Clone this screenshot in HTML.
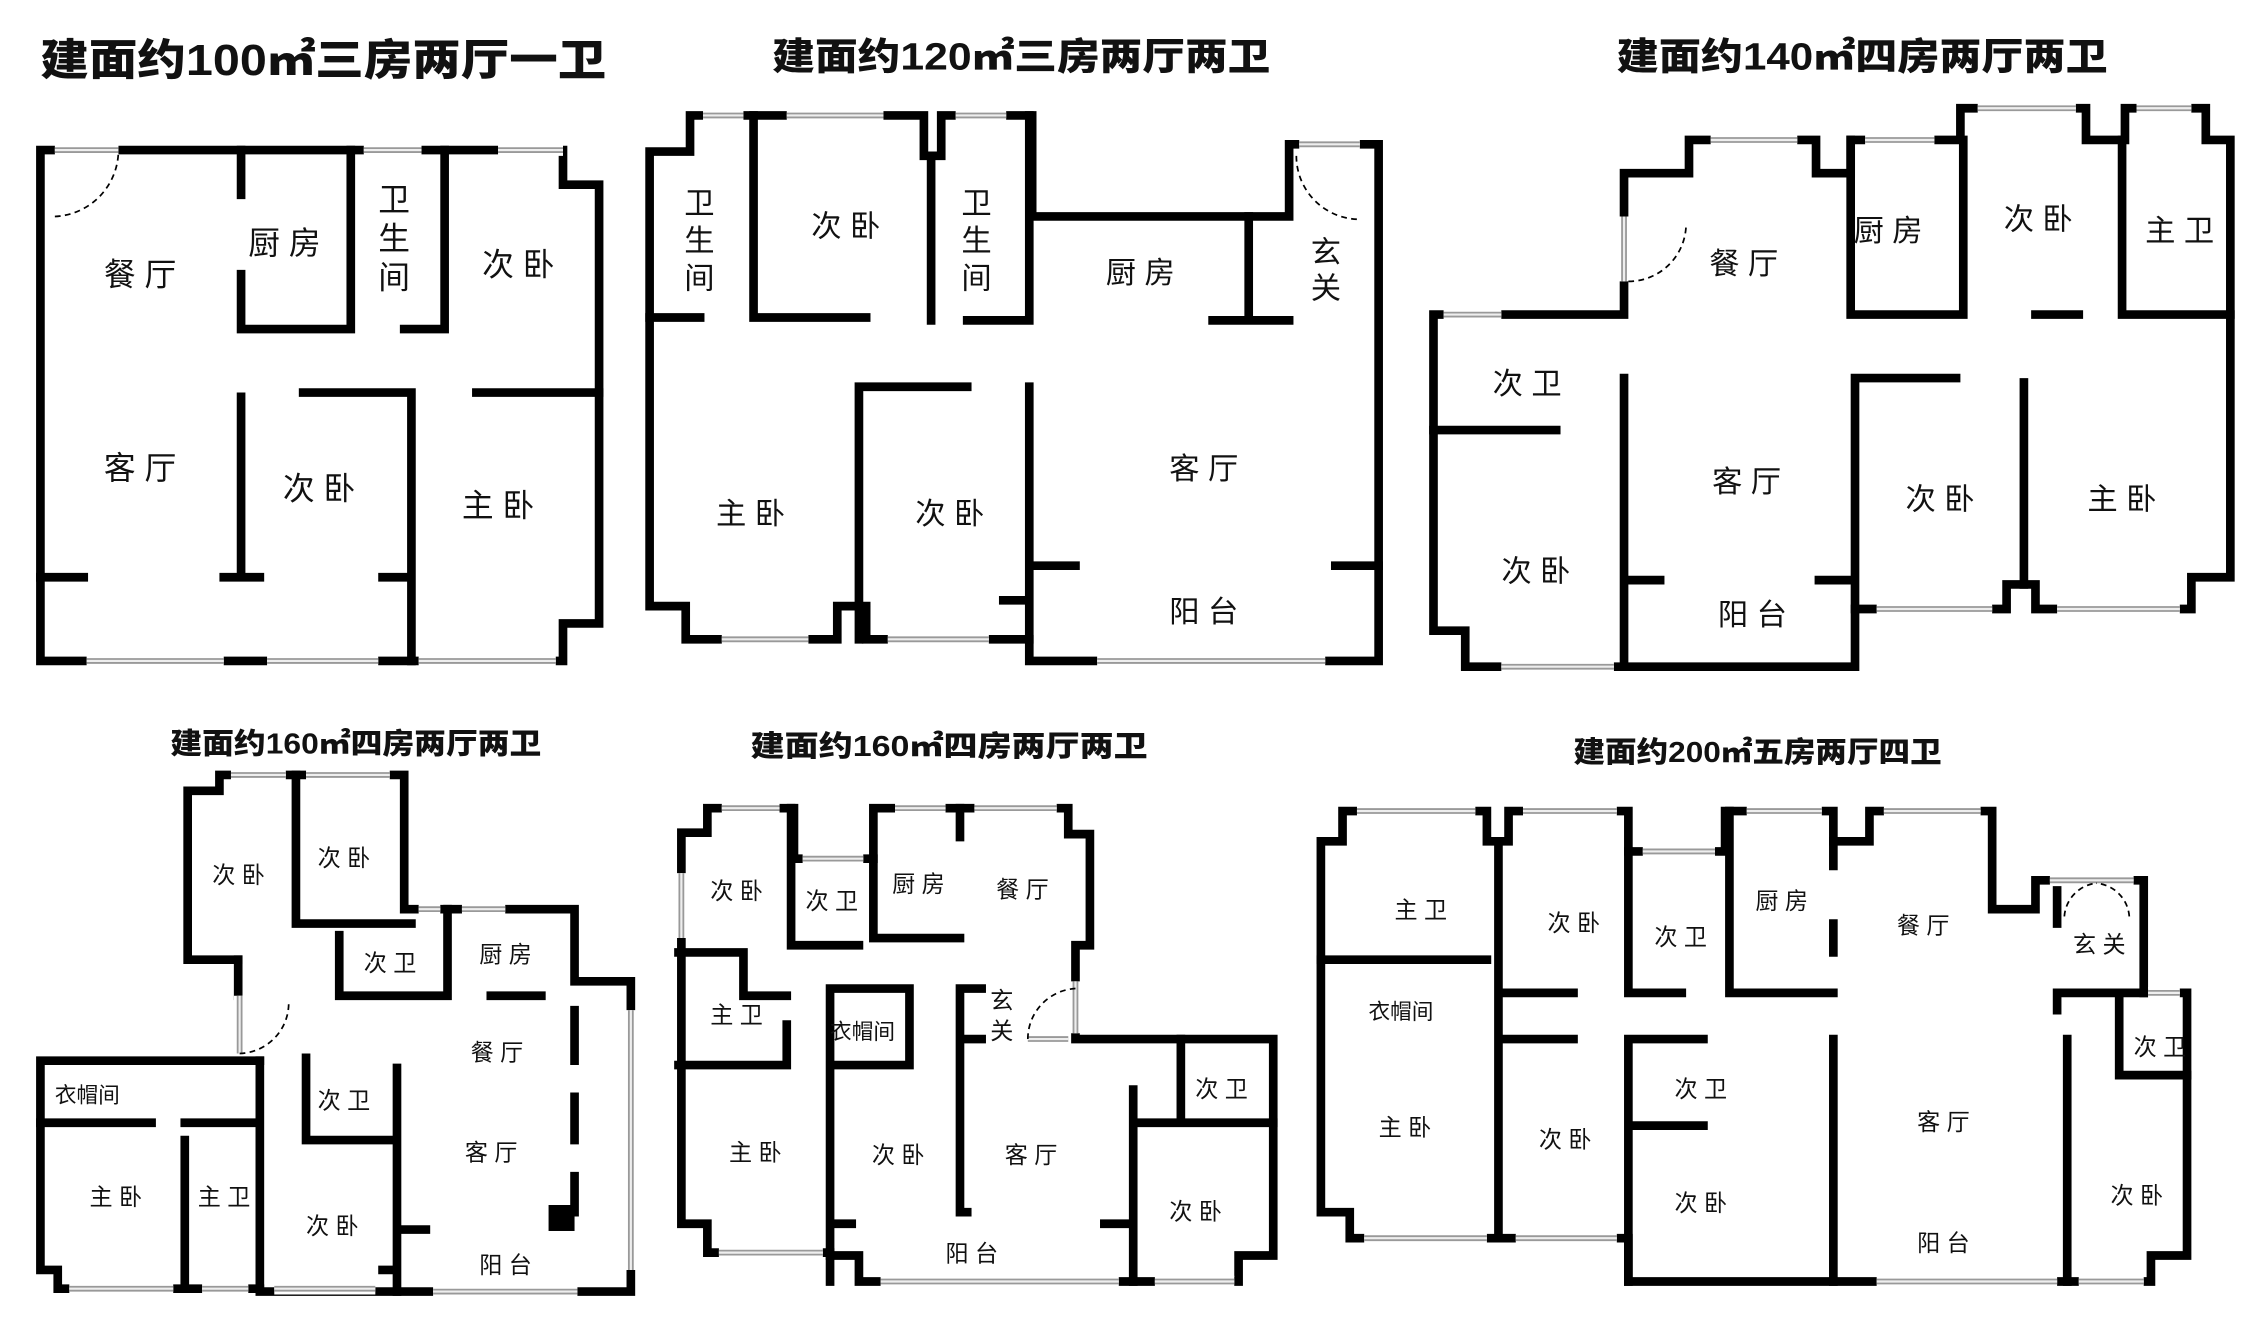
<!DOCTYPE html>
<html><head><meta charset="utf-8"><style>
html,body{margin:0;padding:0;background:#fff;}
svg{display:block}
text{font-family:"Liberation Sans","Noto Sans CJK SC",sans-serif;fill:#111;}
.t{font-weight:900}
.w{fill:none;stroke:#000;stroke-width:6;stroke-linecap:square;stroke-linejoin:miter}
.wa{fill:none;stroke:#fff;stroke-width:8;stroke-linecap:butt}
.wb{fill:none;stroke:#999;stroke-width:4;stroke-linecap:butt}
.wc{fill:none;stroke:#eee;stroke-width:1.5;stroke-linecap:butt}
.d{stroke:#000;stroke-width:1.2;fill:none;stroke-dasharray:4 3}
</style></head><body>
<svg width="2252" height="1332" viewBox="0 0 1560 923" preserveAspectRatio="none" xmlns="http://www.w3.org/2000/svg">
<!-- titles -->
<text class="t" x="28" y="52" font-size="30" textLength="392" lengthAdjust="spacingAndGlyphs">建面约100㎡三房两厅一卫</text>
<text class="t" x="535" y="48" font-size="26" textLength="345" lengthAdjust="spacingAndGlyphs">建面约120㎡三房两厅两卫</text>
<text class="t" x="1120" y="48" font-size="26" textLength="340" lengthAdjust="spacingAndGlyphs">建面约140㎡四房两厅两卫</text>
<text class="t" x="118" y="522" font-size="20" textLength="257" lengthAdjust="spacingAndGlyphs">建面约160㎡四房两厅两卫</text>
<text class="t" x="520" y="524" font-size="20" textLength="275" lengthAdjust="spacingAndGlyphs">建面约160㎡四房两厅两卫</text>
<text class="t" x="1090" y="528" font-size="20" textLength="255" lengthAdjust="spacingAndGlyphs">建面约200㎡五房两厅四卫</text>

<!-- Plan 1 -->
<g>
<path class="w" d="M85,104H390V128H415V432H390V458H28V104H38"/>
<path class="w" d="M167,104V135 M167,190V228H243V104 M280,228H308V104 M167,275V400 M210,272H285V458 M330,272H415 M28,400H58 M155,400H180 M265,400H285"/>
<g id="p1w"><path d="M38,104H82 M252,104H292 M345,104H390 M60,458H155 M185,458H262 M290,458H385"/></g>
<path class="wa" d="M38,104H82 M252,104H292 M345,104H390 M60,458H155 M185,458H262 M290,458H385"/>
<path class="wb" d="M38,104H82 M252,104H292 M345,104H390 M60,458H155 M185,458H262 M290,458H385"/>
<path class="wc" d="M38,104H82 M252,104H292 M345,104H390 M60,458H155 M185,458H262 M290,458H385"/>
<path class="d" d="M38,150A46,46 0 0 0 82,106"/>
<text x="72" y="198" font-size="22">餐 厅</text>
<text x="172" y="176" font-size="22">厨 房</text>
<text x="262" y="146" font-size="22">卫</text><text x="262" y="173" font-size="22">生</text><text x="262" y="200" font-size="22">间</text>
<text x="334" y="191" font-size="22">次 卧</text>
<text x="72" y="332" font-size="22">客 厅</text>
<text x="196" y="346" font-size="22">次 卧</text>
<text x="320" y="358" font-size="22">主 卧</text>
</g>

<!-- Plan 2 -->
<g>
<path class="w" d="M478,80H640V108H652V80H715V150H893V100H955V458H713V443H600V420H580V443H475V420H450V105H478V80"/>
<path class="w" d="M522,80V220 M450,220H485 M522,220H600 M645,108V222 M670,222H713V80 M865,150V222 M840,222H893 M595,268V443 M595,268H670 M713,268V443 M713,392H745 M695,416H713 M925,392H955"/>
<path class="wa" d="M487,80H515 M545,80H612 M662,80H697 M500,443H560 M615,443H685 M760,458H918 M900,100H942"/>
<path class="wb" d="M487,80H515 M545,80H612 M662,80H697 M500,443H560 M615,443H685 M760,458H918 M900,100H942"/>
<path class="wc" d="M487,80H515 M545,80H612 M662,80H697 M500,443H560 M615,443H685 M760,458H918 M900,100H942"/>
<path class="d" d="M898,108A44,44 0 0 0 942,152"/>
<text x="474" y="148" font-size="21">卫</text><text x="474" y="174" font-size="21">生</text><text x="474" y="200" font-size="21">间</text>
<text x="562" y="164" font-size="21">次 卧</text>
<text x="666" y="148" font-size="21">卫</text><text x="666" y="174" font-size="21">生</text><text x="666" y="200" font-size="21">间</text>
<text x="766" y="196" font-size="21">厨 房</text>
<text x="908" y="182" font-size="21">玄</text><text x="908" y="207" font-size="21">关</text>
<text x="496" y="363" font-size="21">主 卧</text>
<text x="634" y="363" font-size="21">次 卧</text>
<text x="810" y="332" font-size="21">客 厅</text>
<text x="810" y="431" font-size="21">阳 台</text>
</g>

<!-- Plan 3 -->
<g>
<path class="w" d="M993,218H1125V120H1170V97H1258V120H1282V97H1358V75H1445V97H1472V75H1528V97H1545V400H1518V422H1410V405H1390V422H1285V462H1015V437H993V218"/>
<path class="w" d="M1282,97V218H1360V97 M1470,97V218H1545 M1410,218H1440 M993,298H1078 M1125,262V462 M1125,402H1150 M1260,402H1285 M1285,262V422 M1285,262H1355 M1402,265V405"/>
<path class="wa" d="M1185,97H1245 M1292,97H1340 M1370,75H1438 M1480,75H1518 M1000,218H1040 M1040,462H1118 M1300,422H1380 M1425,422H1510 M1125,150V195"/>
<path class="wb" d="M1185,97H1245 M1292,97H1340 M1370,75H1438 M1480,75H1518 M1000,218H1040 M1040,462H1118 M1300,422H1380 M1425,422H1510 M1125,150V195"/>
<path class="wc" d="M1185,97H1245 M1292,97H1340 M1370,75H1438 M1480,75H1518 M1000,218H1040 M1040,462H1118 M1300,422H1380 M1425,422H1510 M1125,150V195"/>
<path class="d" d="M1128,195A40,40 0 0 0 1168,155"/>
<text x="1184" y="190" font-size="21">餐 厅</text>
<text x="1284" y="167" font-size="21">厨 房</text>
<text x="1388" y="159" font-size="21">次 卧</text>
<text x="1486" y="167" font-size="21">主 卫</text>
<text x="1034" y="273" font-size="21">次 卫</text>
<text x="1186" y="341" font-size="21">客 厅</text>
<text x="1320" y="353" font-size="21">次 卧</text>
<text x="1446" y="353" font-size="21">主 卧</text>
<text x="1040" y="403" font-size="21">次 卧</text>
<text x="1190" y="433" font-size="21">阳 台</text>
</g>

<!-- Plan 4 -->
<g>
<path class="w" d="M165,665H130V548H152V537H280V630H398V680H437V895H180V893H40V880H28V735H180"/>
<path class="w" d="M205,537V640 M205,640H285 M235,648V690H310 M310,630V690 M340,690H375 M398,700V735 M165,665V690 M28,778H105 M128,778H180 M128,790V893 M180,735V893 M212,733V790 M212,790H275 M275,740V895 M275,852H295 M398,760V790 M398,815V840 M265,880H275"/>
<path class="wa" d="M160,537H198 M212,537H270 M290,630H305 M320,630H350 M166,690V730 M437,700V880 M48,893H120 M140,893H172 M190,893H260 M300,895H400"/>
<path class="wb" d="M160,537H198 M212,537H270 M290,630H305 M320,630H350 M166,690V730 M437,700V880 M48,893H120 M140,893H172 M190,893H260 M300,895H400"/>
<path class="wc" d="M160,537H198 M212,537H270 M290,630H305 M320,630H350 M166,690V730 M437,700V880 M48,893H120 M140,893H172 M190,893H260 M300,895H400"/>
<rect x="380" y="835" width="18" height="18" fill="#000"/>
<path class="d" d="M166,730A35,35 0 0 0 200,695"/>
<text x="147" y="612" font-size="16">次 卧</text>
<text x="220" y="600" font-size="16">次 卧</text>
<text x="252" y="673" font-size="16">次 卫</text>
<text x="332" y="667" font-size="16">厨 房</text>
<text x="326" y="735" font-size="16">餐 厅</text>
<text x="38" y="764" font-size="15">衣帽间</text>
<text x="220" y="768" font-size="16">次 卫</text>
<text x="322" y="804" font-size="16">客 厅</text>
<text x="62" y="835" font-size="16">主 卧</text>
<text x="137" y="835" font-size="16">主 卫</text>
<text x="212" y="855" font-size="16">次 卧</text>
<text x="332" y="882" font-size="16">阳 台</text>
</g>

<!-- Plan 5 -->
<g>
<path class="w" d="M472,577H490V560H550V595H605V560H740V578H755V655H745V720H882V870H858V888H595V870H575V868H490V848H472V577"/>
<path class="w" d="M548,560V655 M548,655H595 M605,595V650H665 M665,560V580 M650,650H665 M470,660H515V690H545 M545,710V738 M470,738H545 M575,685V888 M575,685H630V738 M575,738H630 M665,685V840 M665,685H680 M665,720H680 M785,755V888 M785,778H882 M818,720V778 M765,848H785 M575,848H590 M665,840H670"/>
<path class="wa" d="M500,560H540 M556,595H598 M620,560H655 M675,560H732 M472,605V650 M498,868H570 M610,888H775 M800,888H855 M712,720H740 M745,680V716"/>
<path class="wb" d="M500,560H540 M556,595H598 M620,560H655 M675,560H732 M472,605V650 M498,868H570 M610,888H775 M800,888H855 M712,720H740 M745,680V716"/>
<path class="wc" d="M500,560H540 M556,595H598 M620,560H655 M675,560H732 M472,605V650 M498,868H570 M610,888H775 M800,888H855 M712,720H740 M745,680V716"/>
<path class="d" d="M712,720A35,35 0 0 1 745,685"/>
<text x="492" y="623" font-size="16">次 卧</text>
<text x="558" y="630" font-size="16">次 卫</text>
<text x="618" y="618" font-size="16">厨 房</text>
<text x="690" y="622" font-size="16">餐 厅</text>
<text x="492" y="709" font-size="16">主 卫</text>
<text x="575" y="720" font-size="15">衣帽间</text>
<text x="686" y="699" font-size="16">玄</text><text x="686" y="720" font-size="16">关</text>
<text x="828" y="760" font-size="16">次 卫</text>
<text x="505" y="804" font-size="16">主 卧</text>
<text x="604" y="806" font-size="16">次 卧</text>
<text x="696" y="806" font-size="16">客 厅</text>
<text x="810" y="845" font-size="16">次 卧</text>
<text x="655" y="874" font-size="16">阳 台</text>
</g>

<!-- Plan 6 -->
<g>
<path class="w" d="M915,583H930V562H1030V583H1045V562H1128V590H1195V562H1270V583H1295V562H1380V630H1410V610H1485V688H1515V870H1490V888H1128V858H1040H935V840H915V583"/>
<path class="w" d="M915,665H1030 M1038,583V858 M1038,688H1090 M1128,590V688 M1128,688H1165 M1198,562V688H1270 M1270,583V600 M1270,640V660 M1040,720H1090 M1128,720V888 M1128,720H1180 M1128,780H1180 M1270,720V888 M1432,720V888 M1425,688H1485 M1425,688V700 M1468,688V745H1515 M1425,610V640"/>
<path class="wa" d="M940,562H1022 M1055,562H1120 M1138,590H1188 M1210,562H1262 M1305,562H1372 M1420,610H1478 M945,858H1030 M1050,858H1120 M1300,888H1425 M1440,888H1485 M1488,688H1510"/>
<path class="wb" d="M940,562H1022 M1055,562H1120 M1138,590H1188 M1210,562H1262 M1305,562H1372 M1420,610H1478 M945,858H1030 M1050,858H1120 M1300,888H1425 M1440,888H1485 M1488,688H1510"/>
<path class="wc" d="M940,562H1022 M1055,562H1120 M1138,590H1188 M1210,562H1262 M1305,562H1372 M1420,610H1478 M945,858H1030 M1050,858H1120 M1300,888H1425 M1440,888H1485 M1488,688H1510"/>
<path class="d" d="M1430,635A25,25 0 0 1 1452,612 M1475,635A25,25 0 0 0 1452,612"/>
<text x="966" y="636" font-size="16">主 卫</text>
<text x="1072" y="645" font-size="16">次 卧</text>
<text x="1146" y="655" font-size="16">次 卫</text>
<text x="1216" y="630" font-size="16">厨 房</text>
<text x="1314" y="647" font-size="16">餐 厅</text>
<text x="1436" y="660" font-size="16">玄 关</text>
<text x="948" y="706" font-size="15">衣帽间</text>
<text x="1478" y="731" font-size="16">次 卫</text>
<text x="1160" y="760" font-size="16">次 卫</text>
<text x="1328" y="783" font-size="16">客 厅</text>
<text x="955" y="787" font-size="16">主 卧</text>
<text x="1066" y="795" font-size="16">次 卧</text>
<text x="1160" y="839" font-size="16">次 卧</text>
<text x="1462" y="834" font-size="16">次 卧</text>
<text x="1328" y="867" font-size="16">阳 台</text>
</g>
</svg>
</body></html>
